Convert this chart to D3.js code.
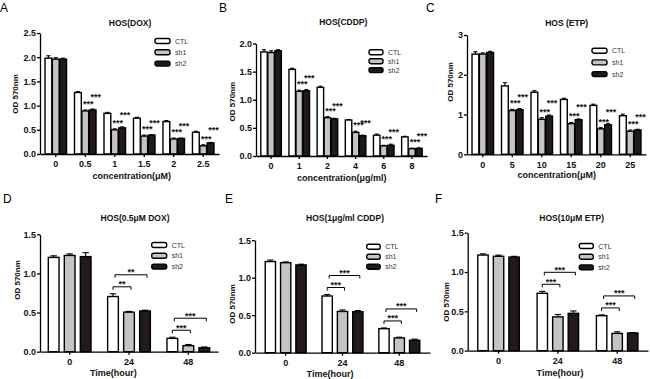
<!DOCTYPE html>
<html>
<head>
<meta charset="utf-8">
<script src="https://cdn.jsdelivr.net/npm/d3@7"></script>
<style>
  body { margin: 0; background: #fff; }
  svg { display: block; font-family: Arial, "Liberation Sans", sans-serif; }
</style>
</head>
<body>
<svg id="chart" width="650" height="379"></svg>
<script>
const series = ["CTL", "sh1", "sh2"];
const fills = { CTL: "#ffffff", sh1: "#c4c4c4", sh2: "#221a18" };

// A: HOS(DOX)
const concA = ["0", "0.5", "1", "1.5", "2", "2.5"];
const ctlA = [1.98, 1.27, 0.84, 0.74, 0.67, 0.45];
const sh1A = [1.96, 0.89, 0.50, 0.37, 0.31, 0.17];
const sh2A = [1.96, 0.91, 0.54, 0.39, 0.32, 0.23];
const errCtlA = [0.05, 0.02, 0.02, 0.02, 0.02, 0.02];
const errSh1A = [0.03, 0.02, 0.02, 0.02, 0.02, 0.02];
const errSh2A = [0.02, 0.02, 0.02, 0.01, 0.01, 0.01];
const sigA = ["", "***", "***", "***", "***", "***"];

// B: HOS(CDDP)
const concB = ["0", "1", "2", "4", "6", "8"];
const ctlB = [1.85, 1.54, 1.22, 0.64, 0.37, 0.34];
const sh1B = [1.84, 1.15, 0.68, 0.42, 0.18, 0.13];
const sh2B = [1.87, 1.16, 0.66, 0.36, 0.19, 0.135];
const errCtlB = [0.04, 0.02, 0.02, 0.01, 0.02, 0.01];
const errSh1B = [0.03, 0.02, 0.02, 0.02, 0.01, 0.01];
const errSh2B = [0.02, 0.02, 0.01, 0.01, 0.02, 0.01];
const sigB = ["", "***", "***", "***", "***", "***"];

// C: HOS (ETP)
const concC = ["0", "5", "10", "15", "20", "25"];
const ctlC = [2.52, 1.72, 1.56, 1.38, 1.23, 0.97];
const sh1C = [2.52, 1.10, 0.88, 0.77, 0.64, 0.58];
const sh2C = [2.56, 1.12, 0.96, 0.87, 0.74, 0.61];
const errCtlC = [0.06, 0.08, 0.04, 0.03, 0.03, 0.04];
const errSh1C = [0.03, 0.03, 0.04, 0.03, 0.03, 0.03];
const errSh2C = [0.03, 0.03, 0.03, 0.02, 0.03, 0.02];
const sigC = ["", "***", "***", "***", "***", "***"];

// D-F: time course
const hours = ["0", "24", "48"];

const ctlD = [1.205, 0.705, 0.17];
const sh1D = [1.23, 0.505, 0.077];
const sh2D = [1.215, 0.52, 0.05];
const errCtlD = [0.02, 0.035, 0.015];
const errSh1D = [0.02, 0.01, 0.015];
const errSh2D = [0.05, 0.01, 0.01];
const sigD1 = ["", "**", "***"];
const sigD2 = ["", "**", "***"];

const ctlE = [1.215, 0.756, 0.32];
const sh1E = [1.20, 0.55, 0.197];
const sh2E = [1.17, 0.546, 0.166];
const errCtlE = [0.02, 0.02, 0.01];
const errSh1E = [0.01, 0.02, 0.01];
const errSh2E = [0.01, 0.015, 0.015];
const sigE1 = ["", "***", "***"];
const sigE2 = ["", "***", "***"];

const ctlF = [1.216, 0.73, 0.445];
const sh1F = [1.20, 0.43, 0.22];
const sh2F = [1.19, 0.475, 0.225];
const errCtlF = [0.015, 0.025, 0.01];
const errSh1F = [0.015, 0.03, 0.02];
const errSh2F = [0.01, 0.03, 0.005];
const sigF1 = ["", "***", "***"];
const sigF2 = ["", "***", "***"];

const svg = d3.select("#chart");

const panels = [
  { letter: "A", lx: 0, ly: 12, title: "HOS(DOX)", tx: 130, ty: 26.3,
    groups: concA, vals: [ctlA, sh1A, sh2A], errs: [errCtlA, errSh1A, errSh2A], stars: sigA,
    xr: [40, 219], yr: [154, 33], ymax: 2.5, yticks: [0, 0.5, 1, 1.5, 2, 2.5], fmt: d3.format(".1f"),
    pi: 0.27, po: 0.17, sub: 0.08,
    xtitle: "concentration(\u03bcM)", xtx: 131.7, xty: 179, ytx: 18, yty: 94,
    leg: [155, 41, 11.3, 15] },
  { letter: "B", lx: 219, ly: 12, title: "HOS(CDDP)", tx: 343.3, ty: 24.7,
    groups: concB, vals: [ctlB, sh1B, sh2B], errs: [errCtlB, errSh1B, errSh2B], stars: sigB,
    xr: [256, 427], yr: [156, 43.5], ymax: 2, yticks: [0, 0.5, 1, 1.5, 2], fmt: d3.format(".1f"),
    pi: 0.27, po: 0.17, sub: 0.08,
    xtitle: "concentration(\u03bcg/ml)", xtx: 341.7, xty: 181.3, ytx: 234.7, yty: 101.7,
    leg: [369, 52.3, 8.9, 14] },
  { letter: "C", lx: 426, ly: 12, title: "HOS (ETP)", tx: 566.7, ty: 25.7,
    groups: concC, vals: [ctlC, sh1C, sh2C], errs: [errCtlC, errSh1C, errSh2C], stars: sigC,
    xr: [467, 646], yr: [154.3, 35], ymax: 3, yticks: [0, 1, 2, 3], fmt: d3.format("d"),
    pi: 0.27, po: 0.17, sub: 0.08,
    xtitle: "concentration(\u03bcM)", xtx: 556.7, xty: 178, ytx: 453, yty: 82,
    leg: [592, 50.7, 11.7, 15] },
  { letter: "D", lx: 3, ly: 202.5, title: "HOS(0.5\u03bcM DOX)", tx: 135, ty: 221.3,
    groups: hours, vals: [ctlD, sh1D, sh2D], errs: [errCtlD, errSh1D, errSh2D], br: [sigD1, sigD2],
    xr: [40, 218], yr: [351.7, 234.3], ymax: 1.5, yticks: [0, 0.5, 1, 1.5], fmt: d3.format(".1f"),
    pi: 0.28, po: 0.14, sub: 0.33,
    xtitle: "Time(hour)", xtx: 113.3, xty: 376.3, ytx: 19.7, yty: 280,
    leg: [151.7, 245, 10.8, 15] },
  { letter: "E", lx: 225, ly: 202.5, title: "HOS(1\u03bcg/ml CDDP)", tx: 345, ty: 221.3,
    groups: hours, vals: [ctlE, sh1E, sh2E], errs: [errCtlE, errSh1E, errSh2E], br: [sigE1, sigE2],
    xr: [255, 430], yr: [352.7, 240.2], ymax: 1.5, yticks: [0, 0.5, 1, 1.5], fmt: d3.format(".1f"),
    pi: 0.28, po: 0.18, sub: 0.33,
    xtitle: "Time(hour)", xtx: 330, xty: 377, ytx: 235, yty: 304,
    leg: [366.7, 246.7, 10, 13.5] },
  { letter: "F", lx: 435, ly: 202.5, title: "HOS(10\u03bcM ETP)", tx: 571.7, ty: 221.3,
    groups: hours, vals: [ctlF, sh1F, sh2F], errs: [errCtlF, errSh1F, errSh2F], br: [sigF1, sigF2],
    xr: [467.7, 648], yr: [350.7, 232.7], ymax: 1.5, yticks: [0, 0.5, 1, 1.5], fmt: d3.format(".1f"),
    pi: 0.3, po: 0.17, sub: 0.33,
    xtitle: "Time(hour)", xtx: 560, xty: 376.3, ytx: 448.5, yty: 302,
    leg: [579.3, 246, 10.7, 14] }
];

function drawPanel(p) {
  const g = svg.append("g");

  const x = d3.scaleBand().domain(p.groups).range(p.xr).paddingInner(p.pi).paddingOuter(p.po);
  const xs = d3.scaleBand().domain(series).range([0, x.bandwidth()]).paddingInner(p.sub);
  const y = d3.scaleLinear().domain([0, p.ymax]).range(p.yr);
  const bw = xs.bandwidth();
  const cx = (grp, s) => x(grp) + xs(s) + bw / 2;

  const rows = p.groups.flatMap((grp, i) =>
    series.map((s, j) => ({ grp, i, s, v: p.vals[j][i], e: p.errs[j][i] })));

  // error bars (upper only)
  const eb = g.append("g").attr("stroke", "#000").attr("stroke-width", 1.1);
  eb.selectAll("line.v").data(rows).join("line")
    .attr("x1", d => cx(d.grp, d.s)).attr("x2", d => cx(d.grp, d.s))
    .attr("y1", d => y(d.v)).attr("y2", d => y(d.v + d.e));
  eb.selectAll("line.c").data(rows).join("line")
    .attr("x1", d => cx(d.grp, d.s) - bw * 0.3).attr("x2", d => cx(d.grp, d.s) + bw * 0.3)
    .attr("y1", d => y(d.v + d.e)).attr("y2", d => y(d.v + d.e));

  g.append("g").selectAll("rect").data(rows).join("rect")
    .attr("x", d => x(d.grp) + xs(d.s))
    .attr("y", d => y(d.v))
    .attr("width", bw)
    .attr("height", d => y(0) - y(d.v))
    .attr("fill", d => fills[d.s])
    .attr("stroke", "#000")
    .attr("stroke-width", 1.4);

  // axes
  const ya = g.append("g").attr("transform", `translate(${p.xr[0]},0)`)
    .call(d3.axisLeft(y).tickValues(p.yticks).tickFormat(p.fmt).tickSize(3).tickSizeOuter(0).tickPadding(1));
  const xa = g.append("g").attr("transform", `translate(0,${p.yr[0]})`)
    .call(d3.axisBottom(x).tickSize(3).tickSizeOuter(0).tickPadding(4));
  [ya, xa].forEach(a => {
    a.selectAll("path, line").attr("stroke", "#000").attr("stroke-width", 1.3);
    a.selectAll("text").attr("font-size", 9).attr("font-weight", "bold").attr("fill", "#111")
      .attr("font-family", "Arial, 'Liberation Sans', sans-serif");
  });

  // significance marks
  if (p.stars) {
    const marks = rows.filter(d => d.s !== "CTL" && p.stars[d.i]);
    g.append("g").selectAll("text").data(marks).join("text")
      .attr("x", d => cx(d.grp, d.s) + 3)
      .attr("y", d => y(d.v + d.e) - (d.s === "sh1" ? 8 : 14) + 5)
      .attr("text-anchor", "middle")
      .attr("font-size", 9).attr("font-weight", "bold").attr("fill", "#111")
      .text(d => p.stars[d.i]);
  }
  if (p.br) {
    p.groups.forEach((grp, i) => {
      const top = y(p.vals[0][i] + p.errs[0][i]);
      [["sh1", 7, 0, 2], ["sh2", 19, 2, 2]].forEach(([s, off, a, b], k) => {
        const lab = p.br[k][i];
        if (!lab) return;
        const x1 = cx(grp, "CTL") + a, x2 = cx(grp, s) + b, yb = top - off;
        g.append("path")
          .attr("d", `M${x1},${yb + 3}V${yb}H${x2}V${yb + 3}`)
          .attr("fill", "none").attr("stroke", "#000").attr("stroke-width", 1);
        g.append("text")
          .attr("x", (x1 + x2) / 2).attr("y", yb + 0.5)
          .attr("text-anchor", "middle")
          .attr("font-size", 9).attr("font-weight", "bold").attr("fill", "#111")
          .text(lab);
      });
    });
  }

  // titles and labels
  g.append("text").attr("x", p.lx).attr("y", p.ly).attr("font-size", 12).text(p.letter);
  g.append("text").attr("x", p.tx).attr("y", p.ty).attr("text-anchor", "middle")
    .attr("font-size", 8.5).attr("font-weight", "bold").attr("fill", "#111").text(p.title);
  g.append("text").attr("x", p.xtx).attr("y", p.xty).attr("text-anchor", "middle")
    .attr("font-size", 9).attr("font-weight", "bold").attr("fill", "#111").text(p.xtitle);
  g.append("text").attr("transform", `translate(${p.ytx},${p.yty}) rotate(-90)`)
    .attr("text-anchor", "middle").attr("font-size", 8).attr("font-weight", "bold")
    .attr("fill", "#111").text("OD 570nm");

  // legend
  const [lx, ly, step, w] = p.leg;
  const lg = g.append("g").selectAll("g").data(series).join("g")
    .attr("transform", (d, i) => `translate(${lx},${ly + i * step})`);
  lg.append("rect").attr("x", 0).attr("y", -2.5).attr("width", w).attr("height", 5)
    .attr("rx", 2).attr("fill", d => fills[d]).attr("stroke", "#000").attr("stroke-width", 1.4);
  lg.append("text").attr("x", w + 5).attr("y", 2.5).attr("font-size", 7).attr("fill", "#333").text(d => d);
}

panels.forEach(drawPanel);
</script>
</body>
</html>
